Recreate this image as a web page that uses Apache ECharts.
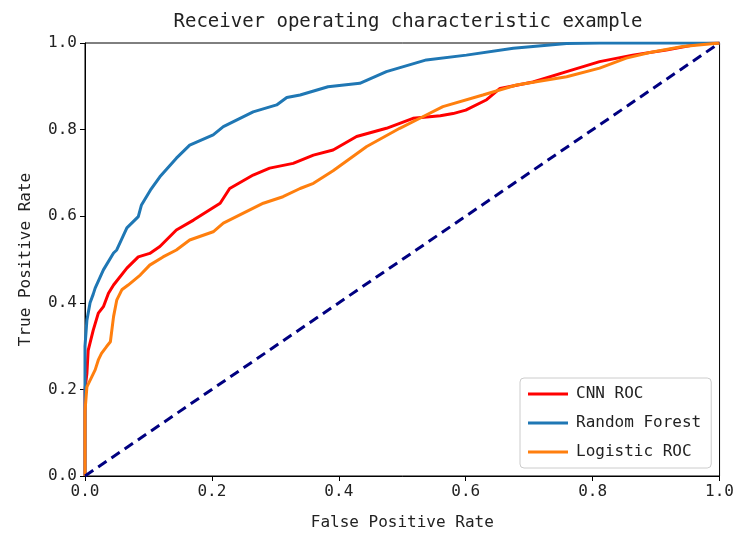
<!DOCTYPE html>
<html>
<head>
<meta charset="utf-8">
<script src="https://cdn.jsdelivr.net/npm/echarts@6/dist/echarts.min.js"></script>
<style>
  html, body { margin: 0; padding: 0; background: #fff; }
  #chart { width: 737px; height: 538px; }
</style>
</head>
<body>
<div id="chart"></div>
<script>
// ROC curves: [false positive rate, true positive rate]
const cnnRoc = [
  [0,0],[0,0.20],[0.003,0.237],[0.005,0.29],[0.013,0.337],[0.021,0.376],[0.029,0.391],
  [0.037,0.422],[0.045,0.441],[0.066,0.48],[0.084,0.506],[0.102,0.514],[0.118,0.530],
  [0.144,0.568],[0.171,0.591],[0.213,0.630],[0.228,0.664],[0.265,0.695],[0.291,0.711],
  [0.328,0.722],[0.360,0.741],[0.391,0.753],[0.428,0.784],[0.475,0.803],[0.517,0.826],
  [0.560,0.832],[0.580,0.837],[0.600,0.845],[0.633,0.869],[0.654,0.895],[0.706,0.910],
  [0.759,0.934],[0.811,0.957],[0.863,0.972],[0.916,0.984],[0.969,0.998],[1,1]
];
const randomForestRoc = [
  [0,0],[0,0.30],[0.003,0.36],[0.008,0.40],[0.013,0.42],[0.016,0.434],[0.029,0.476],
  [0.045,0.515],[0.05,0.522],[0.066,0.573],[0.084,0.599],[0.089,0.626],[0.103,0.66],
  [0.118,0.691],[0.144,0.734],[0.165,0.764],[0.202,0.788],[0.218,0.807],[0.265,0.841],
  [0.302,0.857],[0.318,0.874],[0.339,0.880],[0.383,0.899],[0.433,0.907],[0.475,0.934],
  [0.538,0.961],[0.601,0.972],[0.675,0.988],[0.759,0.999],[0.811,1.0],[1,1]
];
const logisticRoc = [
  [0,0],[0,0.15],[0.003,0.206],[0.016,0.245],[0.021,0.268],[0.026,0.283],[0.034,0.299],
  [0.040,0.31],[0.045,0.368],[0.05,0.406],[0.058,0.430],[0.068,0.441],[0.087,0.464],
  [0.102,0.487],[0.123,0.506],[0.144,0.522],[0.165,0.545],[0.202,0.564],[0.218,0.584],
  [0.244,0.603],[0.281,0.630],[0.312,0.645],[0.339,0.664],[0.360,0.676],[0.391,0.705],
  [0.444,0.761],[0.496,0.803],[0.530,0.828],[0.564,0.853],[0.627,0.880],[0.680,0.903],
  [0.759,0.922],[0.811,0.942],[0.853,0.965],[0.890,0.978],[0.942,0.992],[1,1]
];
const chanceLine = [[0,0],[1,1]];
const axisTicks = [0, 0.2, 0.4, 0.6, 0.8, 1.0];

const FONT = '"DejaVu Sans Mono", "Liberation Mono", monospace';
const TEXT = '#222';

const chart = echarts.init(document.getElementById('chart'));
chart.setOption({
  animation: false,
  backgroundColor: '#fff',
  title: {
    text: 'Receiver operating characteristic example',
    left: 403,
    textAlign: 'center',
    top: 8,
    textStyle: { fontFamily: FONT, fontSize: 19, fontWeight: 'normal', color: TEXT }
  },
  grid: {
    left: 85, right: 17, top: 43, bottom: 62,
    show: true, borderColor: '#000', borderWidth: 1, backgroundColor: 'transparent'
  },
  legend: {
    orient: 'vertical',
    left: 520, top: 378,
    padding: [6, 10, 6, 8],
    itemWidth: 40, itemHeight: 3, itemGap: 9,
    borderColor: '#ccc', borderWidth: 1, borderRadius: 4,
    backgroundColor: 'rgba(255,255,255,0.85)',
    textStyle: { fontFamily: FONT, fontSize: 16, color: TEXT, lineHeight: 20, padding: [0, 0, 0, 3] },
    data: [
      { name: 'CNN ROC', icon: 'rect' },
      { name: 'Random Forest', icon: 'rect' },
      { name: 'Logistic ROC', icon: 'rect' }
    ]
  },
  xAxis: {
    type: 'value', min: 0, max: 1, interval: 0.2,
    name: 'False Positive Rate', nameLocation: 'middle', nameGap: 39,
    nameTextStyle: { fontFamily: FONT, fontSize: 16, color: TEXT },
    axisLine: { show: true, onZero: false, lineStyle: { color: '#000', width: 1 } },
    axisTick: { show: true, inside: false, length: 5, lineStyle: { color: '#000' } },
    axisLabel: {
      fontFamily: FONT, fontSize: 16, color: TEXT, margin: 8,
      formatter: v => axisTicks.includes(+v.toFixed(1)) ? v.toFixed(1) : ''
    },
    splitLine: { show: false }
  },
  yAxis: {
    type: 'value', min: 0, max: 1, interval: 0.2,
    name: 'True Positive Rate', nameLocation: 'middle', nameGap: 51,
    nameTextStyle: { fontFamily: FONT, fontSize: 16, color: TEXT },
    axisLine: { show: true, onZero: false, lineStyle: { color: '#000', width: 1 } },
    axisTick: { show: true, inside: false, length: 5, lineStyle: { color: '#000' } },
    axisLabel: {
      fontFamily: FONT, fontSize: 16, color: TEXT, margin: 8,
      formatter: v => v.toFixed(1)
    },
    splitLine: { show: false }
  },
  series: [
    {
      name: 'CNN ROC', type: 'line', data: cnnRoc, showSymbol: false,
      color: '#ff0000', lineStyle: { color: '#ff0000', width: 3 }, z: 3
    },
    {
      name: 'Random Forest', type: 'line', data: randomForestRoc, showSymbol: false,
      color: '#1f77b4', lineStyle: { color: '#1f77b4', width: 3 }, z: 3
    },
    {
      name: 'Logistic ROC', type: 'line', data: logisticRoc, showSymbol: false,
      color: '#ff7f0e', lineStyle: { color: '#ff7f0e', width: 3 }, z: 3
    },
    {
      type: 'line', data: chanceLine, showSymbol: false,
      lineStyle: { color: '#000080', width: 3, type: [10, 6] }, z: 4
    }
  ]
});
</script>
</body>
</html>
